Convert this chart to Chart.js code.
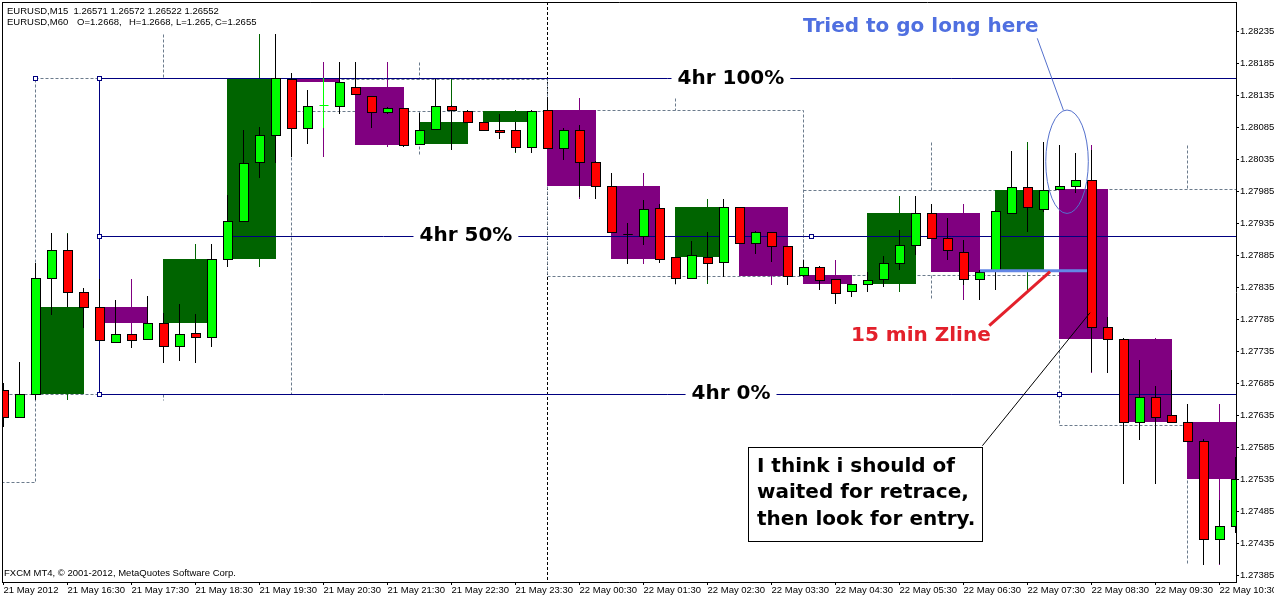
<!DOCTYPE html>
<html>
<head>
<meta charset="utf-8">
<script src="https://cdn.jsdelivr.net/npm/chart.js@4.4.1/dist/chart.umd.min.js"></script>
<style>
  html, body { margin: 0; padding: 0; background: #fff; }
  #wrap { width: 1274px; height: 600px; }
</style>
</head>
<body>
<div id="wrap"><canvas id="chart" width="1274" height="600"></canvas></div>
<script>
// EURUSD M15 bars, index 0 = 21 May 15:30, one bar every 15 minutes
const m15Open = [
  1.27674, 1.27633, 1.27669, 1.27849, 1.27893, 1.27828, 1.27804, 1.27750, 1.27762, 1.27754,
  1.27780, 1.27744, 1.27764, 1.27758, 1.27879, 1.27939, 1.28031, 1.28074, 1.28161, 1.28085,
  1.28120, 1.28119, 1.28148, 1.28135, 1.28109, 1.28115, 1.28060, 1.28083, 1.28119, 1.28111,
  1.28093, 1.28082, 1.28081, 1.28055, 1.28112, 1.28053, 1.28082, 1.28031, 1.27993, 1.27919,
  1.27915, 1.27959, 1.27882, 1.27849, 1.27882, 1.27874, 1.27960, 1.27904, 1.27921, 1.27899,
  1.27854, 1.27867, 1.27848, 1.27829, 1.27840, 1.27848, 1.27873, 1.27902, 1.27951, 1.27912,
  1.27890, 1.27848, 1.27861, 1.27952, 1.27992, 1.27957, 1.27989, 1.27994, 1.28003, 1.27773,
  1.27755, 1.27624, 1.27664, 1.27636, 1.27624, 1.27594, 1.27441, 1.27462
];
const m15High = [
  1.27685, 1.27719, 1.27873, 1.27920, 1.27918, 1.27834, 1.27848, 1.27815, 1.27762, 1.27822,
  1.27795, 1.27809, 1.27793, 1.27903, 1.27980, 1.28082, 1.28086, 1.28232, 1.28170, 1.28144,
  1.28162, 1.28188, 1.28187, 1.28135, 1.28117, 1.28116, 1.28108, 1.28161, 1.28120, 1.28112,
  1.28094, 1.28106, 1.28094, 1.28112, 1.28131, 1.28084, 1.28089, 1.28032, 1.28014, 1.27935,
  1.27972, 1.27965, 1.27883, 1.27908, 1.27922, 1.27974, 1.27961, 1.27923, 1.27922, 1.27900,
  1.27878, 1.27868, 1.27848, 1.27841, 1.27859, 1.27884, 1.27925, 1.27978, 1.27965, 1.27943,
  1.27909, 1.27862, 1.27956, 1.28048, 1.28050, 1.28063, 1.28057, 1.28045, 1.28050, 1.27788,
  1.27756, 1.27721, 1.27680, 1.27706, 1.27653, 1.27598, 1.27502, 1.27570
];
const m15Low = [
  1.27617, 1.27631, 1.27659, 1.27792, 1.27804, 1.27771, 1.27751, 1.27749, 1.27740, 1.27753,
  1.27717, 1.27720, 1.27717, 1.27742, 1.27867, 1.27938, 1.28006, 1.28029, 1.28039, 1.28059,
  1.28084, 1.28107, 1.28136, 1.28085, 1.28106, 1.28055, 1.28059, 1.28082, 1.28050, 1.28092,
  1.28080, 1.28067, 1.28047, 1.28046, 1.28052, 1.28034, 1.27976, 1.27973, 1.27920, 1.27871,
  1.27901, 1.27873, 1.27841, 1.27848, 1.27846, 1.27852, 1.27903, 1.27887, 1.27875, 1.27839,
  1.27852, 1.27831, 1.27809, 1.27820, 1.27828, 1.27836, 1.27862, 1.27886, 1.27911, 1.27878,
  1.27839, 1.27815, 1.27831, 1.27951, 1.27921, 1.27953, 1.27988, 1.27982, 1.27702, 1.27701,
  1.27527, 1.27596, 1.27528, 1.27623, 1.27593, 1.27401, 1.27403, 1.27451
];
const m15Close = [
  1.27632, 1.27669, 1.27849, 1.27893, 1.27828, 1.27804, 1.27752, 1.27762, 1.27753, 1.27780,
  1.27744, 1.27762, 1.27758, 1.27879, 1.27939, 1.28030, 1.28074, 1.28162, 1.28085, 1.28119,
  1.28120, 1.28157, 1.28137, 1.28109, 1.28115, 1.28057, 1.28082, 1.28119, 1.28112, 1.28093,
  1.28082, 1.28078, 1.28055, 1.28111, 1.28053, 1.28081, 1.28031, 1.27993, 1.27921, 1.27918,
  1.27957, 1.27880, 1.27849, 1.27885, 1.27873, 1.27960, 1.27904, 1.27922, 1.27900, 1.27853,
  1.27867, 1.27846, 1.27827, 1.27840, 1.27846, 1.27873, 1.27902, 1.27951, 1.27912, 1.27893,
  1.27848, 1.27859, 1.27955, 1.27992, 1.27960, 1.27988, 1.27994, 1.28003, 1.27773, 1.27755,
  1.27624, 1.27664, 1.27632, 1.27625, 1.27594, 1.27442, 1.27461, 1.27535
];

// 4 hour ranges (start = index of first M15 bar)
const h4Start = [-14, 2, 18, 34, 50, 66];
const h4Open  = [1.27530, 1.27669, 1.28161, 1.28112, 1.27854, 1.27989];
const h4High  = [1.27720, 1.28232, 1.28188, 1.28132, 1.28063, 1.28057];
const h4Low   = [1.27500, 1.27659, 1.28042, 1.27839, 1.27815, 1.27404];
const h4Close = [1.27669, 1.28162, 1.28111, 1.27853, 1.27988, 1.27620];

// 4hr levels
const fibLevels = [1.28162, 1.27916, 1.27669];
const fibNames  = ['4hr 100%', '4hr 50%', '4hr 0%'];
const fibLabelAt = [45.46, 28.9, 45.47];

const zlinePrice = 1.27861;

// axis ticks
const priceTicks = [
  1.28235, 1.28185, 1.28135, 1.28085, 1.28035, 1.27985, 1.27935, 1.27885, 1.27835,
  1.27785, 1.27735, 1.27685, 1.27635, 1.27585, 1.27535, 1.27485, 1.27435, 1.27385
];
const timeTicks = [0, 4, 8, 12, 16, 20, 24, 28, 32, 36, 40, 44, 48, 52, 56, 60, 64, 68, 72, 76];
const timeLabels = [
  '21 May 2012', '21 May 16:30', '21 May 17:30', '21 May 18:30', '21 May 19:30',
  '21 May 20:30', '21 May 21:30', '21 May 22:30', '21 May 23:30', '22 May 00:30',
  '22 May 01:30', '22 May 02:30', '22 May 03:30', '22 May 04:30', '22 May 05:30',
  '22 May 06:30', '22 May 07:30', '22 May 08:30', '22 May 09:30', '22 May 10:30'
];

const BULL = '#00ff00', BEAR = '#ff0000';
const H1_BULL = '#006400', H1_BEAR = '#800080';
const H4_LINE = '#6b7b8c', FIB = '#000080';
const NOTE_FONT = 'bold 20px "DejaVu Sans"';
const AXIS_FAMILY = '"Liberation Sans", Arial, sans-serif';
const AXIS_FONT = '9.5px ' + AXIS_FAMILY;

function line(ctx, x1, y1, x2, y2) {
  ctx.beginPath();
  ctx.moveTo(x1, y1);
  ctx.lineTo(x2, y2);
  ctx.stroke();
}

// no label overflow padding, the plot must fill the canvas like MT4 does
function noPad(s) {
  s.paddingTop = 0; s.paddingBottom = 0; s.paddingLeft = 0; s.paddingRight = 0;
}

const mt4Plugin = {
  id: 'mt4',
  afterDatasetsDraw(chart) {
    const ctx = chart.ctx, xs = chart.scales.x, ys = chart.scales.y, area = chart.chartArea;
    const X = k => xs.getPixelForValue(k);
    const Y = p => ys.getPixelForValue(p);
    const cX = k => Math.floor(X(k)) + 0.5;
    const cY = p => Math.round(Y(p)) + 0.5;

    ctx.save();
    ctx.beginPath();
    ctx.rect(area.left, area.top, area.right - area.left, area.bottom - area.top);
    ctx.clip();
    ctx.lineWidth = 1;

    // day separator
    ctx.strokeStyle = '#000';
    ctx.setLineDash([3, 2]);
    line(ctx, cX(34), area.top, cX(34), area.bottom);

    // 4hr ranges, dashed
    ctx.strokeStyle = H4_LINE;
    for (let i = 0; i < h4Start.length; i++) {
      const x0 = cX(h4Start[i]), x1 = cX(h4Start[i] + 16);
      const yo = cY(h4Open[i]), yc = cY(h4Close[i]);
      const yt = Math.min(yo, yc), yb = Math.max(yo, yc);
      ctx.strokeRect(x0, yt, x1 - x0, yb - yt);
      const xw = cX(h4Start[i] + 8);
      line(ctx, xw, cY(h4High[i]), xw, yt);
      line(ctx, xw, yb, xw, cY(h4Low[i]));
    }
    ctx.setLineDash([]);

    // 1hr boxes built from the M15 bars
    for (let a = 2; a + 3 < m15Open.length; a += 4) {
      const b = a + 3;
      const o = m15Open[a], c = m15Close[b];
      const hi = Math.max(...m15High.slice(a, b + 1));
      const lo = Math.min(...m15Low.slice(a, b + 1));
      const col = c >= o ? H1_BULL : H1_BEAR;
      const x0 = Math.floor(X(a)), x1 = Math.floor(X(b)) + 1;
      const y0 = Math.round(Math.min(Y(o), Y(c))), y1 = Math.round(Math.max(Y(o), Y(c)));
      ctx.fillStyle = col;
      ctx.fillRect(x0, y0, x1 - x0, Math.max(y1 - y0, 1));
      ctx.strokeStyle = col;
      line(ctx, cX(a + 2), Math.round(Y(hi)), cX(a + 2), Math.round(Y(lo)));
    }

    // 4hr levels
    ctx.strokeStyle = FIB;
    fibLevels.forEach(p => line(ctx, cX(5.97), cY(p), area.right, cY(p)));
    line(ctx, cX(5.97), cY(fibLevels[0]), cX(5.97), cY(fibLevels[2]));

    // M15 candles
    for (let k = 0; k < m15Open.length; k++) {
      const cx = cX(k);
      const yo = Y(m15Open[k]), yc = Y(m15Close[k]);
      const yh = Math.round(Y(m15High[k])), yl = Math.round(Y(m15Low[k]));
      if (m15Open[k] === m15Close[k]) {
        ctx.strokeStyle = BULL;
        line(ctx, cx, yh, cx, yl);
        line(ctx, cx - 4, cY(m15Open[k]), cx + 5, cY(m15Open[k]));
        continue;
      }
      ctx.strokeStyle = '#000';
      line(ctx, cx, yh, cx, yl);
      const top = Math.round(Math.min(yo, yc)) + 0.5, bot = Math.round(Math.max(yo, yc)) + 0.5;
      ctx.fillStyle = m15Close[k] > m15Open[k] ? BULL : BEAR;
      ctx.fillRect(cx - 4, top, 9, bot - top);
      ctx.strokeRect(cx - 4, top, 9, bot - top);
    }

    // 15 min Zline
    ctx.strokeStyle = '#6387e6';
    ctx.lineWidth = 3;
    line(ctx, X(61.03), Y(zlinePrice), X(67.72), Y(zlinePrice));

    // handles of the level objects
    ctx.lineWidth = 1;
    ctx.strokeStyle = FIB;
    ctx.fillStyle = '#fff';
    [[1.97, fibLevels[0]], [5.97, fibLevels[0]], [5.97, fibLevels[1]], [5.97, fibLevels[2]],
     [50.47, fibLevels[1]], [65.97, fibLevels[2]]].forEach(([k, p]) => {
      const x = cX(k), y = cY(p);
      ctx.fillRect(x - 2, y - 2, 4, 4);
      ctx.strokeRect(x - 2, y - 2, 4, 4);
    });

    // level labels with a white backing
    ctx.font = NOTE_FONT;
    ctx.textBaseline = 'middle';
    ctx.textAlign = 'center';
    fibNames.forEach((t, i) => {
      const x = X(fibLabelAt[i]), y = Y(fibLevels[i]);
      const w = ctx.measureText(t).width;
      ctx.fillStyle = '#fff';
      ctx.fillRect(x - w / 2 - 6, y - 3, w + 12, 6);
      ctx.fillStyle = '#000';
      ctx.fillText(t, x, y);
    });

    // notes
    ctx.textAlign = 'left';
    ctx.fillStyle = '#4f6fe0';
    ctx.fillText('Tried to go long here', X(49.97), Y(1.28242));
    ctx.strokeStyle = '#5470cc';
    line(ctx, X(64.61), Y(1.282247), X(66.24), Y(1.281125));
    ctx.beginPath();
    const ex = X(66.47), ey = Y(1.280316);
    ctx.ellipse(ex, ey, X(66.47 + 1.33) - ex, Y(1.280316 - 0.000809) - ey, 0, 0, Math.PI * 2);
    ctx.stroke();

    ctx.fillStyle = '#e3202b';
    ctx.fillText('15 min Zline', X(52.97), Y(1.27759));
    ctx.strokeStyle = '#e3202b';
    ctx.lineWidth = 3;
    line(ctx, X(61.61), Y(1.277751), X(65.41), Y(1.278595));

    ctx.lineWidth = 1;
    ctx.strokeStyle = '#000';
    line(ctx, X(61.18), Y(1.275873), X(67.91), Y(1.277954));
    const bx0 = Math.floor(X(46.55)) + 0.5, bx1 = Math.floor(X(61.18)) + 0.5;
    const by0 = cY(1.275848), by1 = cY(1.274382);
    ctx.fillStyle = '#fff';
    ctx.fillRect(bx0, by0, bx1 - bx0, by1 - by0);
    ctx.strokeRect(bx0, by0, bx1 - bx0, by1 - by0);
    ctx.fillStyle = '#000';
    ctx.fillText('I think i should of', X(47.09), Y(1.275551));
    ctx.fillText('waited for retrace,', X(47.09), Y(1.275133));
    ctx.fillText('then look for entry.', X(47.09), Y(1.274707));

    ctx.restore();

    // frame
    ctx.save();
    ctx.strokeStyle = '#000';
    ctx.lineWidth = 1;
    line(ctx, area.left + 0.5, area.top + 0.5, area.right, area.top + 0.5);
    line(ctx, area.left + 0.5, area.top, area.left + 0.5, area.bottom);

    ctx.font = AXIS_FONT;
    ctx.fillStyle = '#000';
    ctx.textAlign = 'left';
    ctx.textBaseline = 'middle';
    ctx.fillText('EURUSD,M15  1.26571 1.26572 1.26522 1.26552', area.left + 5, area.top + 9);
    ctx.fillText('EURUSD,M60', area.left + 5, area.top + 20);
    ctx.fillText('O=1.2668,', area.left + 75, area.top + 20);
    ctx.fillText('H=1.2668,', area.left + 127, area.top + 20);
    ctx.fillText('L=1.265,', area.left + 174, area.top + 20);
    ctx.fillText('C=1.2655', area.left + 213, area.top + 20);
    ctx.fillText('FXCM MT4, \u00a9 2001-2012, MetaQuotes Software Corp.', area.left + 2, area.bottom - 9);
    ctx.restore();
  }
};

new Chart(document.getElementById('chart'), {
  type: 'scatter',
  data: { datasets: [] },
  options: {
    responsive: false,
    animation: false,
    devicePixelRatio: 1,
    layout: { autoPadding: false, padding: { left: 2, top: 2, right: 0, bottom: 0 } },
    plugins: { legend: { display: false }, tooltip: { enabled: false } },
    scales: {
      x: {
        type: 'linear',
        position: 'bottom',
        min: -0.09375,
        max: 77.03,
        afterBuildTicks: s => { s.ticks = timeTicks.map(v => ({ value: v })); },
        afterFit: s => { s.height = 18; noPad(s); },
        grid: { drawOnChartArea: false, drawTicks: true, tickLength: 3, color: '#000' },
        border: { display: true, color: '#000' },
        ticks: {
          align: 'start', autoSkip: false, maxRotation: 0, minRotation: 0, padding: 0,
          color: '#000', font: { family: AXIS_FAMILY, size: 9.5 },
          callback: (v, i) => timeLabels[i]
        }
      },
      y: {
        type: 'linear',
        position: 'right',
        min: 1.273741,
        max: 1.282815,
        afterBuildTicks: s => { s.ticks = priceTicks.map(v => ({ value: v })); },
        afterFit: s => { s.width = 38; noPad(s); },
        grid: { drawOnChartArea: false, drawTicks: true, tickLength: 3, color: '#000' },
        border: { display: true, color: '#000' },
        ticks: {
          autoSkip: false, padding: 1, color: '#000',
          font: { family: AXIS_FAMILY, size: 9.5 },
          callback: v => Number(v).toFixed(5)
        }
      }
    }
  },
  plugins: [mt4Plugin]
});
</script>
</body>
</html>
